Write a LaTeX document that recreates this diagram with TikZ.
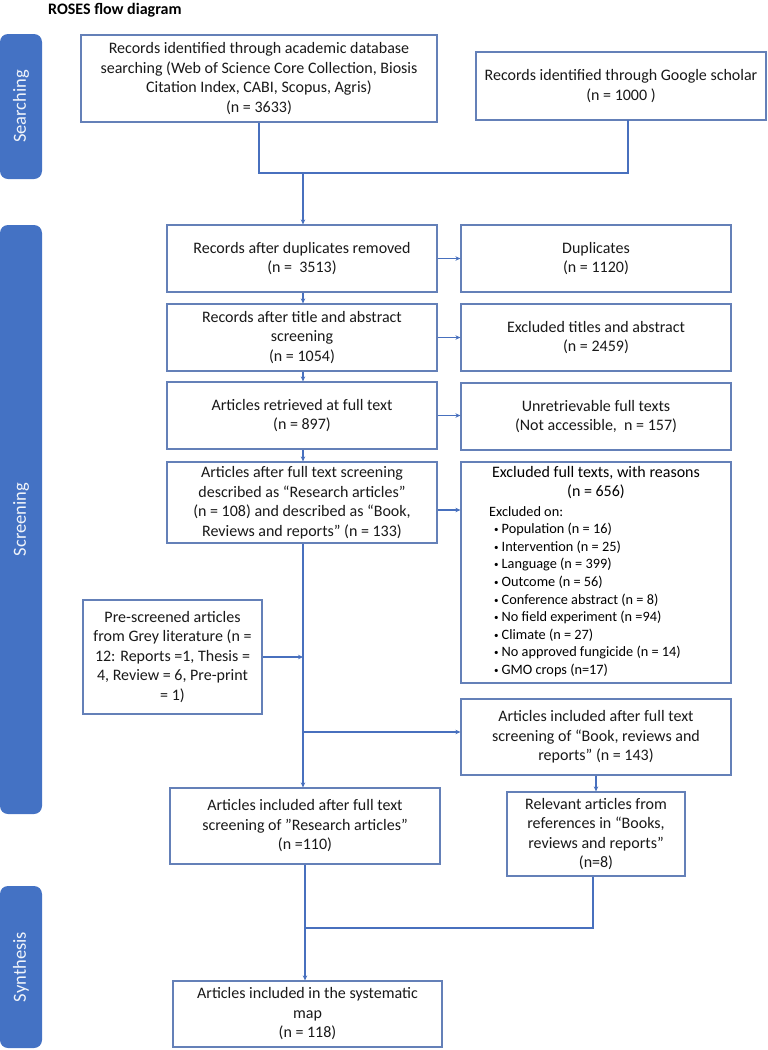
\documentclass[tikz,border=0pt]{standalone}
\usepackage{fontspec}
\setmainfont{Carlito}
\usetikzlibrary{arrows.meta,calc}
\definecolor{barblue}{RGB}{68,114,196}
\definecolor{boxline}{RGB}{100,128,184}
\definecolor{linkblue}{RGB}{72,112,190}
\newcommand{\mainsz}{\fontsize{16}{19.5}\selectfont}
\newcommand{\smallsz}{\fontsize{14.3}{17.6}\selectfont}
\newcommand{\bul}{\makebox[7.5pt][l]{\raisebox{1pt}{\fontsize{9}{9}\selectfont\textbullet}}}
\begin{document}
\begin{tikzpicture}[x=1pt,y=-1pt,
  box/.style={draw=boxline, line width=1.2pt, fill=white, inner sep=0pt, align=center, font=\mainsz, text=black!90},
  sidebar/.style={fill=barblue, rounded corners=8pt, inner sep=0pt, rotate=90, text=white!92!barblue, font=\fontsize{18.5}{22}\selectfont},
  link/.style={draw=linkblue, line width=1.2pt},
  arr/.style={link, -{Stealth[length=5pt,width=4.5pt]}}]
\useasboundingbox (0,0) rectangle (768,1050);

% title
\node[anchor=base west, font=\fontsize{16}{19.5}\selectfont\bfseries, inner sep=0pt] (title) at (48,14.5) {ROSES flow diagram};

% side bars
\node[sidebar, minimum width=145pt, minimum height=42pt] (sSearch) at (21,106.5) {Searching};
\node[sidebar, minimum width=589pt, minimum height=42pt] (sScreen) at (21,519.5) {Screening};
\node[sidebar, minimum width=162pt, minimum height=42pt] (sSynth) at (21,967) {Synthesis};

% boxes
\node[box, minimum width=356pt, minimum height=87pt] (A) at (259,78.5)
  {Records identified through academic database\\searching (Web of Science Core Collection, Biosis\\Citation Index, CABI, Scopus, Agris)\\(n = 3633)};
\node[box, minimum width=290pt, minimum height=68pt] (B) at (621,86)
  {Records identified through Google scholar\\(n = 1000 )};
\node[box, minimum width=270pt, minimum height=67pt] (C) at (302,258.5)
  {Records after duplicates removed\\(n = \ 3513)};
\node[box, minimum width=270pt, minimum height=67pt] (Dup) at (596,258.5)
  {Duplicates\\(n = 1120)};
\node[box, minimum width=270pt, minimum height=67pt] (D) at (302,337.5)
  {Records after title and abstract\\screening\\(n = 1054)};
\node[box, minimum width=270pt, minimum height=67pt] (Exc) at (596,337.5)
  {Excluded titles and abstract\\(n = 2459)};
\node[box, minimum width=270pt, minimum height=67pt] (E) at (302,415.5)
  {Articles retrieved at full text\\(n = 897)};
\node[box, minimum width=270pt, minimum height=67pt] (Unr) at (596,416.5)
  {Unretrievable full texts\\(Not accessible, \ n = 157)};
\node[box, minimum width=270pt, minimum height=81pt] (F) at (302,502.5)
  {Articles after full text screening\\described as “Research articles”\\(n = 108) and described as “Book,\\Reviews and reports” (n = 133)};
\node[box, minimum width=270pt, minimum height=221pt] (G) at (596,572.5) {};
\node[anchor=north, align=center, inner sep=0pt, font=\mainsz] (Gh) at (596,466)
  {Excluded full texts, with reasons\\(n = 656)};
\node[anchor=north west, align=left, inner sep=0pt, font=\smallsz] (Gl) at (489,506)
  {Excluded on:\\
   \hspace*{5pt}\bul Population (n = 16)\\
   \hspace*{5pt}\bul Intervention (n = 25)\\
   \hspace*{5pt}\bul Language (n = 399)\\
   \hspace*{5pt}\bul Outcome (n = 56)\\
   \hspace*{5pt}\bul Conference abstract (n = 8)\\
   \hspace*{5pt}\bul No field experiment (n =94)\\
   \hspace*{5pt}\bul Climate (n = 27)\\
   \hspace*{5pt}\bul No approved fungicide (n = 14)\\
   \hspace*{5pt}\bul GMO crops (n=17)};
\node[box, minimum width=179pt, minimum height=114pt] (H) at (172.5,657)
  {Pre-screened articles\\from Grey literature (n =\\12: Reports =1, Thesis =\\4, Review = 6, Pre-print\\= 1)};
\node[box, minimum width=270pt, minimum height=76pt] (J) at (596,737)
  {Articles included after full text\\screening of “Book, reviews and\\reports” (n = 143)};
\node[box, minimum width=178pt, minimum height=84pt] (K) at (596,834)
  {Relevant articles from\\references in “Books,\\reviews and reports”\\(n=8)};
\node[box, minimum width=270pt, minimum height=76pt] (I) at (305,826)
  {Articles included after full text\\screening of ”Research articles”\\(n =110)};
\node[box, minimum width=269pt, minimum height=66pt] (L) at (307.5,1014)
  {Articles included in the systematic\\map\\(n = 118)};

% connectors
\coordinate (m1) at (303,173);
\coordinate (bB) at (628,120);
\draw[link] (A.south) |- (m1) -| (bB);
\draw[arr] (m1) -- (m1 |- C.north);
\draw[arr] (C.south -| m1) -- (D.north -| m1);
\draw[arr] (D.south -| m1) -- (E.north -| m1);
\draw[arr] (E.south -| m1) -- (F.north -| m1);
\draw[arr] (C.east) -- (Dup.west);
\draw[arr] (D.east) -- (Exc.west);
\draw[arr] (E.east) -- (E.east -| Unr.west);
\draw[arr] (F.east |- 0,510) -- (G.west |- 0,510);
\draw[arr] (F.south -| m1) -- (I.north -| m1);
\draw[arr] (H.east) -- (H.east -| m1);
\draw[arr] (m1 |- 0,732) -- (J.west |- 0,732);
\draw[arr] (J.south) -- (K.north);
\coordinate (m2) at (305,928);
\draw[link] ([xshift=-3pt]K.south) |- (m2);
\draw[arr] (I.south) -- (I.south |- L.north);
\end{tikzpicture}
\end{document}
